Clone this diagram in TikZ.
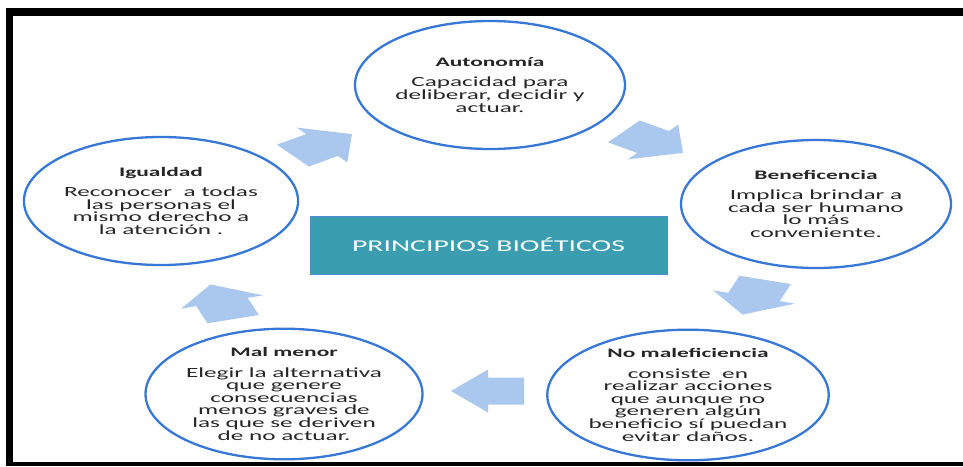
\documentclass[tikz,border=0pt]{standalone}
\usepackage{fontspec}
\setmainfont{Carlito}[FakeStretch=1.8]
\usetikzlibrary{shapes.geometric}
\definecolor{ringblue}{RGB}{55,120,215}
\definecolor{arrowblue}{RGB}{170,200,238}
\definecolor{boxteal}{RGB}{58,158,176}
\definecolor{boxedge}{RGB}{75,140,210}
\definecolor{txtgray}{RGB}{38,38,38}
\newcommand\bodyfont{\fontsize{14}{12.6}\selectfont}
\newcommand\headfont{\fontsize{13}{12.6}\selectfont\bfseries}
\newcommand\cycarrow[4]{%
  \coordinate (#1) at (#2,#3);
  \fill[arrowblue,shift={(#1)},xscale=2,rotate=#4]
    (-18pt,13.5pt) -- (0pt,13.5pt) -- (0pt,21.5pt) -- (18.5pt,0pt)
    -- (0pt,-21.5pt) -- (0pt,-13.5pt) -- (-18pt,-13.5pt) -- cycle;}
\tikzset{
  ring/.style={ellipse, draw=ringblue, line width=2.3pt, fill=white,
    minimum width=270pt, minimum height=128pt, inner sep=0pt,
    align=center, text=txtgray, font=\bodyfont},
  frame/.style={fill=black},
  centerbox/.style={draw=boxedge, line width=0.8pt, fill=boxteal,
    minimum width=357pt, minimum height=58pt, inner sep=0pt,
    text=white, font=\fontsize{16.5}{18}\selectfont}
}
\begin{document}
\begin{tikzpicture}[x=1pt,y=-1pt]
\useasboundingbox (0,0) rectangle (963,466);
% frame
\fill[frame] (6,8) rectangle (963,16);
\fill[frame] (6,8) rectangle (13,466);
\fill[frame] (6,462) rectangle (963,466);
% arrows
\cycarrow{a1}{322}{145}{36}
\cycarrow{a2}{653}{142}{-36}
\cycarrow{a3}{754}{297}{-108}
\cycarrow{a4}{488}{391}{180}
\cycarrow{a5}{222}{302}{108}
% circles
\node[ring] (auto) at (490,85) {{\headfont Autonomía}\\[7.5pt]Capacidad para\\deliberar, decidir y\\actuar.};
\node[ring] (bene) at (816,204) {{\headfont Beneficencia}\\[7.5pt]Implica brindar a\\cada ser humano\\lo más\\conveniente.};
\node[ring, minimum width=263pt] (nomal) at (688,395) {{\headfont No maleficiencia}\\[7.5pt]consiste\ \ en\\realizar acciones\\que aunque no\\generen algún\\beneficio sí puedan\\evitar daños.};
\node[ring] (mal) at (284,394) {{\headfont Mal menor}\\[7.5pt]Elegir la alternativa\\que genere\\consecuencias\\menos graves de\\las que se deriven\\de no actuar.};
\node[ring] (igual) at (161,201) {{\headfont Igualdad}\\[7.5pt]Reconocer\ \ a todas\\las personas el\\mismo derecho a\\la atención .};
% centre
\node[centerbox] (title) at (488.5,245) {PRINCIPIOS BIOÉTICOS};
\end{tikzpicture}
\end{document}
